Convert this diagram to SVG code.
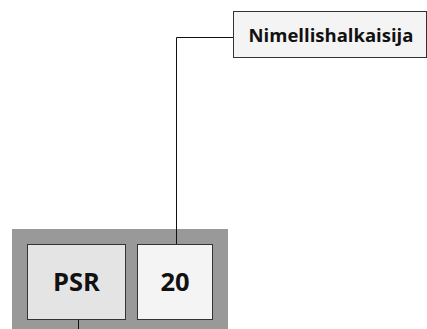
<svg xmlns="http://www.w3.org/2000/svg" width="427" height="329" viewBox="0 0 427 329">
<style>
.box{stroke:#333;stroke-width:1}
.t{font-family:"Open Sans","DejaVu Sans",sans-serif;font-weight:bold;fill:#111;text-anchor:middle}
.c{fill:none;stroke:#111;stroke-width:1}
</style>
<rect x="12" y="229" width="216" height="100" fill="#999"/>
<g id="label">
<rect class="box" x="233.5" y="11.5" width="193" height="46" fill="#f4f4f4"/>
<text class="t" x="331" y="41.5" font-size="18.5">Nimellishalkaisija</text>
</g>
<g id="psr">
<rect class="box" x="27.5" y="244.5" width="98" height="75" fill="#e4e4e4"/>
<text class="t" x="76.5" y="291" font-size="25.5">PSR</text>
</g>
<g id="dn">
<rect class="box" x="137.5" y="244.5" width="75" height="75" fill="#f4f4f4"/>
<text class="t" x="175" y="291" font-size="25.5">20</text>
</g>
<g id="connectors">
<polyline class="c" points="233,37.5 176.5,37.5 176.5,244"/>
<line class="c" x1="78.5" y1="320" x2="78.5" y2="329"/>
</g>
</svg>
